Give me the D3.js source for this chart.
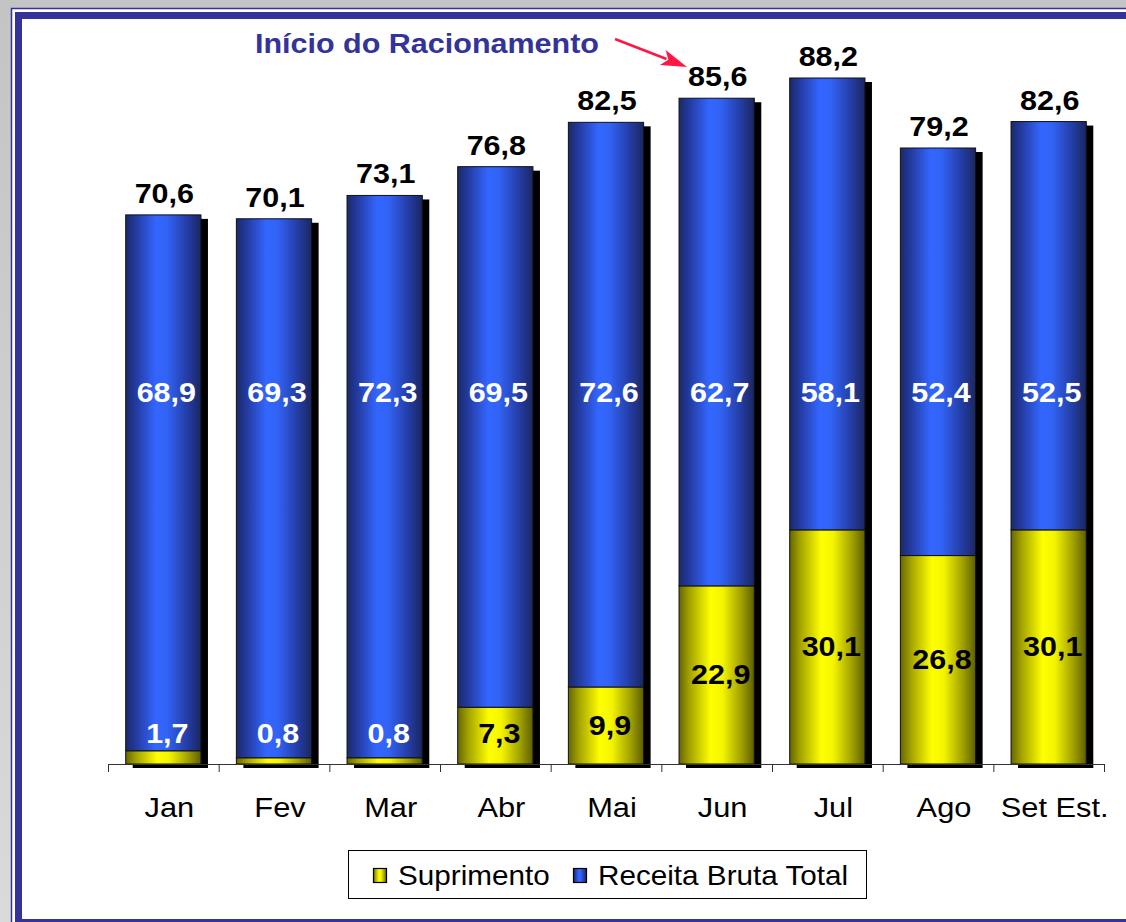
<!DOCTYPE html>
<html>
<head>
<meta charset="utf-8">
<script src="https://cdn.jsdelivr.net/npm/d3@7"></script>
<style>
  body { margin: 0; background: #fff; }
  text { font-family: "Liberation Sans", Arial, sans-serif; }
</style>
</head>
<body>
<svg width="1126" height="922"></svg>
<script>
// Receita mensal - stacked bars

var months = ["Jan", "Fev", "Mar", "Abr", "Mai", "Jun", "Jul", "Ago", "Set Est."];
var suprimento = [1.7, 0.8, 0.8, 7.3, 9.9, 22.9, 30.1, 26.8, 30.1];
var receita = [68.9, 69.3, 72.3, 69.5, 72.6, 62.7, 58.1, 52.4, 52.5];
var totais = [70.6, 70.1, 73.1, 76.8, 82.5, 85.6, 88.2, 79.2, 82.6];
var seriesNames = ["Suprimento", "Receita Bruta Total"];

var svg = d3.select("svg");
var fmt = d3.formatLocale({decimal: ",", thousands: ".", grouping: [3], currency: ["R$", ""]}).format(".1f");

// helper: text slightly stretched horizontally (like the original slide)
function label(g, x, y, txt, size, weight, fill, sx, anchor) {
  return g.append("text")
    .attr("transform", "translate(" + x + "," + y + ") scale(" + sx + ",1)")
    .attr("text-anchor", anchor || "middle")
    .style("font-size", size + "px")
    .style("font-weight", weight)
    .attr("fill", fill)
    .text(txt);
}

// gradients
var defs = svg.append("defs");
var bg = defs.append("linearGradient").attr("id", "bg").attr("x1", 0).attr("y1", 0).attr("x2", 0).attr("y2", 1);
bg.append("stop").attr("offset", "0%").attr("stop-color", "#c4c4c4");
bg.append("stop").attr("offset", "100%").attr("stop-color", "#dadada");

function barGrad(id, stops) {
  var lg = defs.append("linearGradient").attr("id", id).attr("x1", 0).attr("y1", 0).attr("x2", 1).attr("y2", 0);
  stops.forEach(function(s) { lg.append("stop").attr("offset", s[0]).attr("stop-color", s[1]); });
}
barGrad("gBlue", [["0%", "#1b2a68"], ["12%", "#22389a"], ["40%", "#3366ff"], ["55%", "#3163f4"], ["82%", "#243ca4"], ["100%", "#1a2760"]]);
barGrad("gYellow", [["0%", "#666600"], ["14%", "#a3a300"], ["42%", "#ffff00"], ["58%", "#f4f400"], ["84%", "#9c9c00"], ["100%", "#5e5e00"]]);

// background + frame
svg.append("rect").attr("width", 1126).attr("height", 922).attr("fill", "url(#bg)");
svg.append("rect").attr("x", 11.5).attr("y", 8.5).attr("width", 1200).attr("height", 1000)
  .attr("fill", "#fff").attr("stroke", "#333399").attr("stroke-width", 1.5);
svg.append("rect").attr("x", 18.5).attr("y", 15.5).attr("width", 1200).attr("height", 907)
  .attr("fill", "#fff").attr("stroke", "#333399").attr("stroke-width", 7);

// scales
var x = d3.scaleBand().domain(months).range([108, 1104]).paddingInner(0.32).paddingOuter(0.16);
var y = d3.scaleLinear().domain([0, 90]).range([764, 64]);

var table = months.map(function(m, i) {
  return {month: m, "Suprimento": suprimento[i], "Receita Bruta Total": receita[i]};
});
var stacked = d3.stack().keys(seriesNames)(table);
var fills = ["url(#gYellow)", "url(#gBlue)"];

var g = svg.append("g");

// shadows
g.selectAll(".shadow")
  .data(months)
  .enter().append("rect")
    .attr("class", "shadow")
    .attr("x", function(d) { return x(d) + 7; })
    .attr("y", function(d, i) { return y(totais[i]) + 4; })
    .attr("width", x.bandwidth())
    .attr("height", function(d, i) { return y(0) - y(totais[i]); })
    .attr("fill", "#000");

// axis ticks between categories
var edge = d3.scaleLinear().domain([0, months.length]).range([108, 1104]);
svg.append("g")
  .attr("transform", "translate(0,764)")
  .call(d3.axisBottom(edge).ticks(months.length).tickSize(8).tickFormat(""))
  .call(function(a) { a.selectAll("path,line").attr("stroke", "#333"); });

// stacked bars
g.selectAll(".serie")
  .data(stacked)
  .enter().append("g")
    .attr("class", "serie")
    .attr("fill", function(d, i) { return fills[i]; })
  .selectAll("rect")
  .data(function(d) { return d; })
  .enter().append("rect")
    .attr("x", function(d) { return x(d.data.month); })
    .attr("y", function(d) { return y(d[1]); })
    .attr("width", x.bandwidth())
    .attr("height", function(d) { return y(d[0]) - y(d[1]); })
    .attr("stroke", "#111")
    .attr("stroke-width", 1);

// labels
var lab = svg.append("g");
months.forEach(function(m, i) {
  var cx = x(m) + x.bandwidth() / 2;
  label(lab, cx + 1, y(totais[i]) - 12, fmt(totais[i]), 27, "bold", "#000", 1.13);
  label(lab, cx + 3, y(46.5), fmt(receita[i]), 27, "bold", "#fff", 1.13);
  var v = suprimento[i];
  label(lab, cx + 4, y(Math.max(v / 2, 3.8)) + 9, fmt(v), 27, "bold", v >= 5 ? "#000" : "#fff", 1.13);
  label(lab, cx + 6, 817, m, 28, "normal", "#000", 1.1);
});

// annotation
label(svg, 255, 53, "Início do Racionamento", 28, "bold", "#333399", 1.09, "start");
var p0 = [615, 39], p1 = [687, 67];
var dx = p1[0] - p0[0], dy = p1[1] - p0[1], len = Math.sqrt(dx * dx + dy * dy);
var ux = dx / len, uy = dy / len, hl = 26, hw = 8;
var bx = p1[0] - ux * hl, by = p1[1] - uy * hl;
svg.append("line").attr("x1", p0[0]).attr("y1", p0[1]).attr("x2", bx + ux * 4).attr("y2", by + uy * 4)
  .attr("stroke", "#ff1744").attr("stroke-width", 2.5);
svg.append("path")
  .attr("d", "M" + p1 + "L" + [bx - uy * hw, by + ux * hw] + "L" + [bx + ux * 6, by + uy * 6] + "L" + [bx + uy * hw, by - ux * hw] + "Z")
  .attr("fill", "#ff1744");

// legend
var leg = svg.append("g");
leg.append("rect").attr("x", 348.5).attr("y", 850.5).attr("width", 518).attr("height", 48)
  .attr("fill", "#fff").attr("stroke", "#000").attr("stroke-width", 1);
var legX = [373, 573];
seriesNames.forEach(function(s, i) {
  leg.append("rect").attr("x", legX[i] + 0.5).attr("y", 868.5).attr("width", 13).attr("height", 14)
    .attr("fill", fills[i]).attr("stroke", "#000").attr("stroke-width", 1.2);
  label(leg, legX[i] + 25, 885, s, 28, "normal", "#000", 1.06, "start");
});
</script>
</body>
</html>
